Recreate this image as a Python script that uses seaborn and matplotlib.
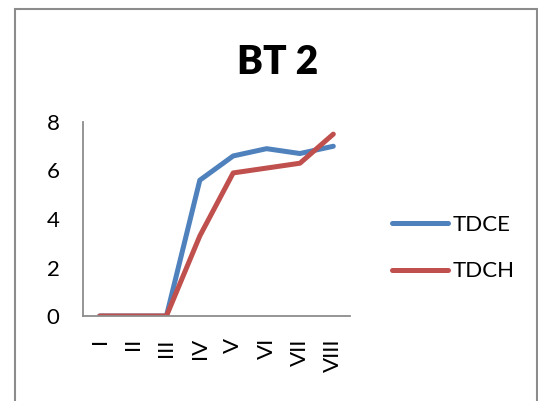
import matplotlib
matplotlib.use("Agg")
import matplotlib.pyplot as plt
import seaborn as sns
import pandas as pd
from matplotlib.patches import Rectangle

categories = ["I", "II", "III", "IV", "V", "VI", "VII", "VIII"]
tdce = [0, 0, 0, 5.6, 6.6, 6.9, 6.7, 7.0]
tdch = [0, 0, 0, 3.3, 5.9, 6.1, 6.3, 7.5]
series_names = ["TDCE", "TDCH"]
colors = ["#4F81BD", "#C0504D"]
title = "BT 2"
yticks = [0, 2, 4, 6, 8]

df = pd.DataFrame({
    "cat": categories * 2,
    "value": tdce + tdch,
    "series": [series_names[0]] * len(categories) + [series_names[1]] * len(categories),
})

sns.set_theme(style="white")
plt.rcParams["font.family"] = ["Lato", "DejaVu Sans"]
plt.rcParams["text.color"] = "black"

W, H = 538, 401
fig = plt.figure(figsize=(W / 100, H / 100), dpi=100)
ax = fig.add_axes([83 / W, 1 - 316 / H, (350 - 83) / W, (316 - 122) / H])

sns.lineplot(data=df, x="cat", y="value", hue="series", palette=colors,
             linewidth=3.6, sort=False, ax=ax, legend=True)

ax.set_xlim(-0.5, len(categories) - 0.5)
ax.set_ylim(0, 8)
ax.set_yticks(yticks)
ax.set_yticklabels([str(t) for t in yticks])
ax.set_xticks(range(len(categories)))
ax.set_xticklabels(categories, rotation=90, va="top", ha="center")
ax.set_xlabel("")
ax.set_ylabel("")
ax.tick_params(axis="both", length=0, labelsize=16, colors="black")
ax.tick_params(axis="y", pad=17)
ax.tick_params(axis="x", pad=16)
for s in ["top", "right"]:
    ax.spines[s].set_visible(False)
for s in ["left", "bottom"]:
    ax.spines[s].set_color("#8c8c8c")
    ax.spines[s].set_linewidth(1.3)
for line in ax.get_lines():
    line.set_solid_capstyle("round")

handles, labels = ax.get_legend_handles_labels()
ax.get_legend().remove()
leg = fig.legend(handles, labels, loc="center left",
                 bbox_to_anchor=(372 / W, 1 - 248 / H), frameon=False,
                 fontsize=16, handlelength=2.5, handletextpad=0.25,
                 labelspacing=1.2)
for t in leg.get_texts():
    t.set_color("black")
for h in leg.legend_handles:
    h.set_linewidth(3.6)
    h.set_solid_capstyle("round")

fig.text(278 / W, 1 - 62 / H, title, ha="center", va="center",
         fontsize=28, fontweight="heavy", color="black")

fig.patches.append(Rectangle((15 / W, -0.1), (537 - 15) / W, 0.1 + 1 - 9 / H,
                             transform=fig.transFigure, fill=False,
                             edgecolor="#8c8c8c", linewidth=1.5))

fig.savefig("out.png", dpi=100, facecolor="white")
